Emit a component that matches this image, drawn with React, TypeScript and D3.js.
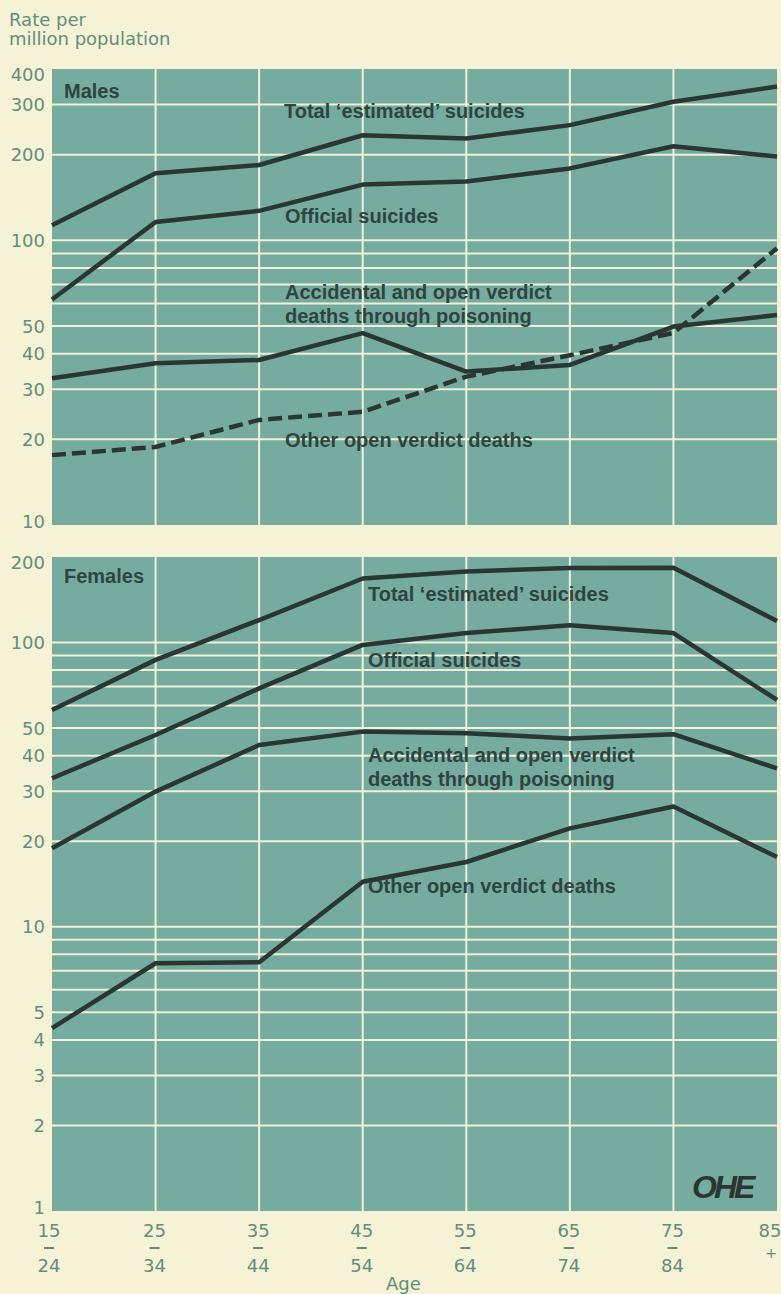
import React from "react";
import * as d3 from "d3";

// Age groups along the x axis (upper / lower part of each label)
const ageStart = ["15", "25", "35", "45", "55", "65", "75", "85"];
const ageEnd = ["24", "34", "44", "54", "64", "74", "84", "+"];

// Males, rate per million population
const maleTotalEstimated = [113, 172, 184, 234, 228, 254, 307, 347];
const maleOfficial = [62, 116, 127, 157, 161, 179, 214, 197];
const maleAccidentalPoisoning = [32.8, 37, 38, 47.2, 34.6, 36.5, 49.8, 54.7];
const maleOtherOpenVerdict = [17.6, 18.8, 23.4, 25, 33.2, 39.5, 47.3, 93.8];

// Females, rate per million population
const femaleTotalEstimated = [57.9, 86.9, 120, 168, 178, 183, 183.5, 119];
const femaleOfficial = [33.3, 47.3, 69, 98.1, 108, 115, 108, 62.8];
const femaleAccidentalPoisoning = [18.9, 29.9, 43.6, 48.6, 48, 46, 47.6, 36.1];
const femaleOtherOpenVerdict = [4.4, 7.44, 7.5, 14.4, 16.9, 22.2, 26.5, 17.6];

// Axis ticks and grid values
const maleTicks = [400, 300, 200, 100, 50, 40, 30, 20, 10];
const maleGrid = [300, 200, 100, 90, 80, 70, 60, 50, 40, 30, 20];
const femaleTicks = [200, 100, 50, 40, 30, 20, 10, 5, 4, 3, 2, 1];
const femaleGrid = [100, 90, 80, 70, 60, 50, 40, 30, 20, 10, 9, 8, 7, 6, 5, 4, 3, 2];

const BG = "#f6f2d5";
const PANEL = "#76ac9f";
const GRID = "#f1f0d9";
const INK = "#2a3632";
const LABEL_INK = "#2f443f";
const AXIS_INK = "#5f8f7d";

const LEFT = 52;
const RIGHT = 777;

const x = d3.scalePoint<string>().domain(ageStart).range([LEFT, RIGHT]);

type Series = { values: number[]; dashed?: boolean };
type Label = { lines: string[]; x: number; y: number };

function Panel(props: {
  top: number;
  bottom: number;
  domain: [number, number];
  ticks: number[];
  grid: number[];
  series: Series[];
  labels: Label[];
  title: string;
  titleY: number;
}) {
  const { top, bottom, domain, ticks, grid, series, labels, title, titleY } = props;
  const y = d3.scaleLog().domain(domain).range([bottom, top]);
  const line = d3
    .line<number>()
    .x((_, i) => x(ageStart[i]) as number)
    .y((v) => y(v));

  return (
    <g>
      <rect x={LEFT} y={top} width={RIGHT - LEFT} height={bottom - top} fill={PANEL} />
      {grid.map((g) => (
        <line key={"h" + g} x1={LEFT} x2={RIGHT} y1={y(g)} y2={y(g)} stroke={GRID} strokeWidth={2} />
      ))}
      {ageStart.slice(1, -1).map((a) => (
        <line key={"v" + a} x1={x(a)} x2={x(a)} y1={top} y2={bottom} stroke={GRID} strokeWidth={2} />
      ))}
      {ticks.map((t) => (
        <text
          key={"t" + t}
          x={45}
          y={Math.min(Math.max(y(t), top + 6), bottom - 3)}
          dy="0.36em"
          textAnchor="end"
          fontFamily="DejaVu Sans"
          fontSize={18}
          fill={AXIS_INK}
        >
          {t}
        </text>
      ))}
      <text x={LEFT + 12} y={titleY} fontFamily="Liberation Sans, Arial, sans-serif" fontWeight="bold" fontSize={20} fill={LABEL_INK}>
        {title}
      </text>
      {labels.map((l, i) => (
        <text key={"l" + i} x={l.x} y={l.y} fontFamily="Liberation Sans, Arial, sans-serif" fontWeight="bold" fontSize={20} fill={LABEL_INK}>
          {l.lines.map((s, j) => (
            <tspan key={j} x={l.x} dy={j === 0 ? 0 : 24}>
              {s}
            </tspan>
          ))}
        </text>
      ))}
      {series.map((s, i) => (
        <path
          key={"s" + i}
          d={line(s.values) || ""}
          fill="none"
          stroke={INK}
          strokeWidth={4.5}
          strokeLinejoin="round"
          strokeDasharray={s.dashed ? "14 6" : undefined}
        />
      ))}
    </g>
  );
}

export default function App() {
  const W = 781;
  const H = 1294;
  return (
    <svg width={W} height={H} style={{ position: "absolute", left: 0, top: 0, background: BG }}>
      <rect width={W} height={H} fill={BG} />
      <text x={9} y={26} fontFamily="DejaVu Sans" fontSize={18} fill={AXIS_INK}>
        Rate per
      </text>
      <text x={9} y={45} fontFamily="DejaVu Sans" fontSize={18} fill={AXIS_INK}>
        million population
      </text>

      <Panel
        top={69}
        bottom={525}
        domain={[10, 400]}
        ticks={maleTicks}
        grid={maleGrid}
        title="Males"
        titleY={98}
        series={[
          { values: maleTotalEstimated },
          { values: maleOfficial },
          { values: maleAccidentalPoisoning },
          { values: maleOtherOpenVerdict, dashed: true },
        ]}
        labels={[
          { lines: ["Total \u2018estimated\u2019 suicides"], x: 284, y: 118 },
          { lines: ["Official suicides"], x: 285, y: 223 },
          { lines: ["Accidental and open verdict", "deaths through poisoning"], x: 285, y: 299 },
          { lines: ["Other open verdict deaths"], x: 285, y: 447 },
        ]}
      />

      <Panel
        top={557}
        bottom={1211}
        domain={[1, 200]}
        ticks={femaleTicks}
        grid={femaleGrid}
        title="Females"
        titleY={583}
        series={[
          { values: femaleTotalEstimated },
          { values: femaleOfficial },
          { values: femaleAccidentalPoisoning },
          { values: femaleOtherOpenVerdict },
        ]}
        labels={[
          { lines: ["Total \u2018estimated\u2019 suicides"], x: 368, y: 601 },
          { lines: ["Official suicides"], x: 368, y: 667 },
          { lines: ["Accidental and open verdict", "deaths through poisoning"], x: 368, y: 762 },
          { lines: ["Other open verdict deaths"], x: 368, y: 893 },
        ]}
      />

      {/* OHE mark */}
      <text x={692} y={1198} fontFamily="Liberation Sans, Arial, sans-serif" fontWeight="bold" fontStyle="italic" fontSize={32} letterSpacing={-3} fill={INK}>
        OHE
      </text>

      {/* Age axis */}
      {ageStart.map((a, i) => {
        const cx = (x(a) as number) - (i === 0 ? 3 : i === ageStart.length - 1 ? 7 : 1);
        const last = ageEnd[i] === "+";
        return (
          <g key={"x" + a}>
            <text x={cx} y={1237} textAnchor="middle" fontFamily="DejaVu Sans" fontSize={18} fill={AXIS_INK}>
              {a}
            </text>
            {last ? (
              <text x={cx + 1} y={1258} textAnchor="middle" fontFamily="DejaVu Sans" fontSize={14} fill={AXIS_INK}>
                +
              </text>
            ) : (
              <>
                <line x1={cx - 5} x2={cx + 5} y1={1248} y2={1248} stroke={AXIS_INK} strokeWidth={2} />
                <text x={cx} y={1272} textAnchor="middle" fontFamily="DejaVu Sans" fontSize={18} fill={AXIS_INK}>
                  {ageEnd[i]}
                </text>
              </>
            )}
          </g>
        );
      })}
      <text x={386} y={1290} fontFamily="DejaVu Sans" fontSize={18} fill={AXIS_INK}>
        Age
      </text>
    </svg>
  );
}
